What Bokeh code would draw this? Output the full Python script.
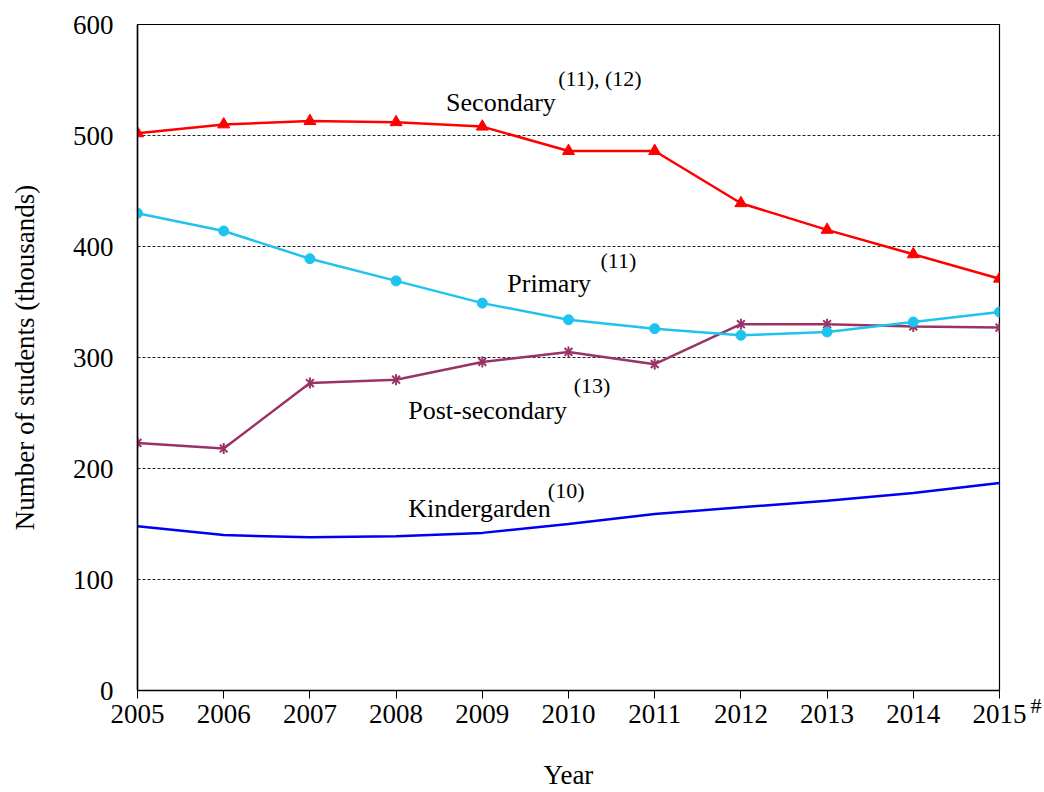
import math
from bokeh.plotting import figure
from bokeh.models import Range1d, FixedTicker, Label, LinearAxis
from bokeh.embed import file_html
from bokeh.resources import INLINE

years = [2005, 2006, 2007, 2008, 2009, 2010, 2011, 2012, 2013, 2014, 2015]
secondary = [502, 510, 513, 512, 508, 486, 486, 439, 415, 393, 371]
primary = [430, 414, 389, 369, 349, 334, 326, 320, 323, 332, 341]
post_secondary = [223, 218, 277, 280, 296, 305, 294, 330, 330, 328, 327]
kindergarden = [148, 140, 138, 139, 142, 150, 159, 165, 171, 178, 187]

y_ticks = [0, 100, 200, 300, 400, 500, 600]
grid_ticks = [100, 200, 300, 400, 500]

FONT = "Liberation Serif"
RED = "#FF0000"
CYAN = "#1EC3EE"
PURPLE = "#993366"
BLUE = "#0000F0"

p = figure(width=1044, height=792, output_backend="svg", toolbar_location=None,
           x_range=Range1d(2005, 2015), y_range=Range1d(0, 600),
           min_border_left=137, min_border_right=45, min_border_top=24,
           min_border_bottom=102)
p.background_fill_color = "white"
p.border_fill_color = "white"
p.outline_line_color = "black"
p.outline_line_width = 1.2

p.xaxis.ticker = FixedTicker(ticks=years)
p.yaxis.ticker = FixedTicker(ticks=y_ticks)
for ax in (p.xaxis[0], p.yaxis[0]):
    ax.axis_line_color = "black"
    ax.axis_line_width = 1.5
    ax.major_tick_line_color = "black"
    ax.minor_tick_line_color = None
    ax.major_label_text_font = FONT
    ax.major_label_text_font_size = "27px"
    ax.major_label_text_color = "black"
    ax.axis_label_text_font = FONT
    ax.axis_label_text_font_style = "normal"
    ax.axis_label_text_font_size = "27px"
    ax.axis_label_text_color = "black"
p.xaxis.major_tick_in = 0
p.xaxis.major_tick_out = 8
p.xaxis.major_label_standoff = 6
p.xaxis.axis_label = "Year"
p.xaxis.axis_label_standoff = 34
p.yaxis.major_tick_in = 0
p.yaxis.major_tick_out = 0
p.yaxis.major_label_standoff = 24
p.yaxis.axis_label = "Number of students (thousands)"
p.yaxis.axis_label_standoff = 30

# "#" footnote mark beside the last year label, drawn as a bare right axis label
hash_axis = LinearAxis(ticker=FixedTicker(ticks=[0]),
                       major_label_overrides={0: "\n#"},
                       axis_line_color=None, major_tick_line_color=None,
                       minor_tick_line_color=None, major_tick_in=0, major_tick_out=0,
                       major_label_standoff=31, major_label_text_font=FONT,
                       major_label_text_font_size="22px", major_label_text_color="black")
p.add_layout(hash_axis, "right")

p.xgrid.grid_line_color = None
p.ygrid.ticker = FixedTicker(ticks=grid_ticks)
p.ygrid.grid_line_color = "#222222"
p.ygrid.grid_line_dash = "3 2"
p.ygrid.grid_line_width = 1

LW = 2.5
p.line(years, kindergarden, line_color=BLUE, line_width=LW)
p.line(years, post_secondary, line_color=PURPLE, line_width=LW)
p.scatter(years, post_secondary, marker="x", size=11, line_color=PURPLE, line_width=2)
p.scatter(years, post_secondary, marker="dash", angle=math.pi / 2, size=11,
          line_color=PURPLE, line_width=2)
p.line(years, primary, line_color=CYAN, line_width=LW)
p.scatter(years, primary, marker="circle", size=10, fill_color=CYAN, line_color=CYAN)
p.line(years, secondary, line_color=RED, line_width=LW)
p.scatter(years, secondary, marker="triangle", size=12, fill_color=RED, line_color=RED)

def lab(x, y, text, size):
    p.add_layout(Label(x=x, y=y, text=text,
                       text_font=FONT, text_font_size=size,
                       text_color="black", text_align="left", text_baseline="middle"))

lab(2008.58, 530, "Secondary", "26px")
lab(2009.88, 551, "(11), (12)", "22px")
lab(2009.29, 367, "Primary", "26px")
lab(2010.37, 387, "(11)", "22px")
lab(2008.14, 252, "Post-secondary", "26px")
lab(2010.06, 275, "(13)", "22px")
lab(2008.14, 164, "Kindergarden", "26px")
lab(2009.76, 180, "(10)", "22px")

open("out.html", "w").write(file_html(p, INLINE))
